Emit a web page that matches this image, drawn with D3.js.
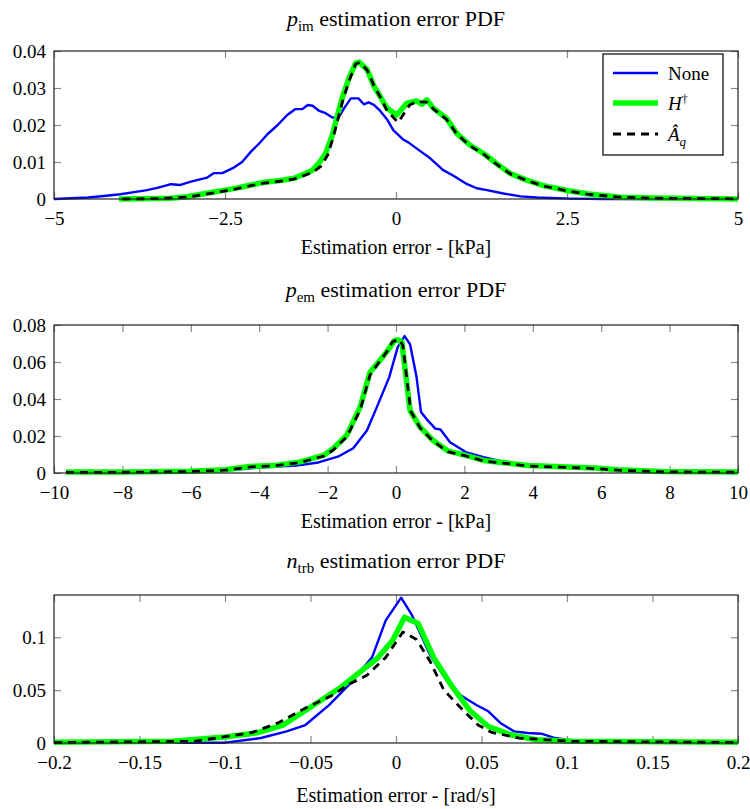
<!DOCTYPE html>
<html>
<head>
<meta charset="utf-8">
<script src="https://cdn.jsdelivr.net/npm/d3@7"></script>
<style>
  body { margin: 0; background: #fff; }
  svg text { font-family: "Liberation Serif", "DejaVu Serif", serif; fill: #000; }
</style>
</head>
<body>
<div id="wrapper"></div>
<script>
// data, [x, pdf]

// p_im panel
const pimXTicks = [-5, -2.5, 0, 2.5, 5]
const pimYTicks = [0, 0.01, 0.02, 0.03, 0.04]
const pimNone = [[-5,0],[-4.5,0.0004],[-4.27,0.0008],[-4.03,0.0013],[-3.78,0.002],[-3.64,0.0024],[-3.49,0.003],[-3.29,0.004],[-3.15,0.0038],[-3.0,0.0047],[-2.76,0.0058],[-2.66,0.007],[-2.54,0.007],[-2.37,0.0085],[-2.25,0.010],[-2.12,0.0128],[-2.0,0.015],[-1.88,0.0175],[-1.73,0.020],[-1.59,0.0227],[-1.47,0.0243],[-1.37,0.0243],[-1.29,0.0254],[-1.22,0.0252],[-1.13,0.0239],[-1.03,0.0232],[-0.93,0.022],[-0.84,0.022],[-0.76,0.0245],[-0.66,0.0272],[-0.55,0.0272],[-0.47,0.0256],[-0.4,0.0261],[-0.32,0.0254],[-0.23,0.0238],[-0.13,0.0215],[-0.04,0.0186],[0.11,0.016],[0.18,0.0153],[0.35,0.013],[0.5,0.011],[0.69,0.0078],[0.84,0.0063],[1.04,0.004],[1.18,0.0029],[1.33,0.0024],[1.57,0.0015],[1.82,0.0007],[2.06,0.0004],[2.55,0.0001],[3.04,0],[5,0]]
const pimH = [[-4.05,0],[-3.78,0.0001],[-3.29,0.0002],[-3.05,0.0006],[-2.81,0.0014],[-2.56,0.0022],[-2.32,0.003],[-2.12,0.0038],[-1.93,0.0045],[-1.69,0.005],[-1.49,0.0056],[-1.35,0.0067],[-1.22,0.0078],[-1.13,0.0096],[-1.03,0.0123],[-0.93,0.0173],[-0.86,0.0223],[-0.78,0.0277],[-0.69,0.0326],[-0.59,0.0367],[-0.54,0.037],[-0.42,0.0349],[-0.32,0.0304],[-0.23,0.0277],[-0.13,0.0245],[0.01,0.0227],[0.16,0.0259],[0.3,0.0265],[0.38,0.0256],[0.45,0.0268],[0.55,0.0245],[0.74,0.0218],[0.89,0.0177],[1.08,0.0146],[1.28,0.0123],[1.47,0.0096],[1.67,0.0069],[1.91,0.0051],[2.16,0.0036],[2.5,0.0023],[2.79,0.0014],[3.28,0.0005],[3.77,0.0003],[4.75,0.0001],[5,0]]
const pimAq = [[-4.0,0],[-3.5,0.0001],[-3.05,0.0005],[-2.81,0.0012],[-2.56,0.002],[-2.32,0.0028],[-2.12,0.0036],[-1.93,0.0043],[-1.69,0.0048],[-1.49,0.0054],[-1.35,0.0063],[-1.22,0.0072],[-1.1,0.0088],[-1.0,0.0118],[-0.92,0.0165],[-0.85,0.0215],[-0.77,0.0272],[-0.68,0.0322],[-0.59,0.0365],[-0.53,0.0369],[-0.42,0.0348],[-0.32,0.0305],[-0.22,0.0272],[-0.13,0.0238],[0.03,0.0207],[0.2,0.0254],[0.3,0.0263],[0.45,0.0262],[0.55,0.0243],[0.74,0.0215],[0.89,0.0175],[1.08,0.0144],[1.28,0.0121],[1.47,0.0094],[1.67,0.0068],[1.91,0.005],[2.16,0.0035],[2.5,0.0022],[2.79,0.0013],[3.28,0.0005],[3.77,0.0002],[4.75,0.0001],[5,0]]

// p_em panel
const pemXTicks = [-10, -8, -6, -4, -2, 0, 2, 4, 6, 8, 10]
const pemYTicks = [0, 0.02, 0.04, 0.06, 0.08]
const pemNone = [[-9.65,0.0005],[-8,0.0005],[-6,0.0008],[-5,0.0012],[-4,0.003],[-2.92,0.004],[-2.27,0.0057],[-1.7,0.0088],[-1.25,0.0134],[-0.85,0.023],[-0.56,0.0356],[-0.2,0.0517],[0.05,0.068],[0.25,0.074],[0.41,0.0696],[0.6,0.052],[0.73,0.033],[0.9,0.029],[1.15,0.024],[1.3,0.0235],[1.58,0.0166],[2.04,0.0113],[2.56,0.0086],[3.2,0.0058],[3.9,0.0042],[5,0.0032],[6,0.0025],[7,0.0012],[8,0.0007],[10,0.0004]]
const pemH = [[-9.65,0.0005],[-7.9,0.0005],[-6.05,0.001],[-5,0.0018],[-4.23,0.0036],[-3.58,0.004],[-2.8,0.006],[-2.1,0.0097],[-1.85,0.013],[-1.44,0.0204],[-1.05,0.0356],[-0.76,0.0544],[-0.51,0.060],[-0.25,0.066],[-0.05,0.0715],[0.05,0.072],[0.17,0.071],[0.41,0.0338],[0.7,0.0249],[1.08,0.0177],[1.51,0.012],[2.04,0.0095],[2.56,0.0068],[3.86,0.0041],[5.82,0.0027],[6.5,0.0018],[7.8,0.0008],[10,0.0005]]
const pemAq = [[-9.65,0.0003],[-7.9,0.0004],[-6.05,0.0008],[-5,0.0015],[-4.23,0.0033],[-3.58,0.0038],[-2.8,0.0057],[-2.1,0.0092],[-1.85,0.0122],[-1.44,0.0195],[-1.05,0.034],[-0.76,0.053],[-0.51,0.0595],[-0.25,0.066],[-0.1,0.071],[0.1,0.0722],[0.2,0.069],[0.43,0.0335],[0.7,0.0245],[1.08,0.0173],[1.51,0.0115],[2.04,0.0092],[2.56,0.0065],[3.86,0.0038],[5.82,0.0024],[6.5,0.0015],[7.8,0.0006],[10,0.0004]]

// n_trb panel
const ntrbXTicks = [-0.2, -0.15, -0.1, -0.05, 0, 0.05, 0.1, 0.15, 0.2]
const ntrbYTicks = [0, 0.05, 0.1]
const ntrbNone = [[-0.2,0.0003],[-0.1,0.0003],[-0.079,0.0047],[-0.064,0.011],[-0.053,0.017],[-0.039,0.036],[-0.027,0.056],[-0.014,0.081],[-0.006,0.116],[0.003,0.1375],[0.009,0.122],[0.02,0.083],[0.03,0.058],[0.038,0.045],[0.047,0.036],[0.054,0.03],[0.061,0.019],[0.069,0.011],[0.077,0.0094],[0.085,0.0088],[0.093,0.0047],[0.103,0.0025],[0.129,0.001],[0.2,0.0005]]
const ntrbH = [[-0.2,0.0006],[-0.131,0.0016],[-0.1,0.0056],[-0.082,0.0094],[-0.066,0.017],[-0.048,0.036],[-0.032,0.053],[-0.011,0.080],[-0.002,0.097],[0.005,0.119],[0.013,0.113],[0.022,0.081],[0.033,0.053],[0.043,0.031],[0.054,0.0156],[0.067,0.0078],[0.082,0.0031],[0.103,0.0016],[0.2,0.0008]]
const ntrbAq = [[-0.2,0.0004],[-0.118,0.0016],[-0.1,0.006],[-0.084,0.01],[-0.069,0.019],[-0.053,0.033],[-0.0375,0.045],[-0.027,0.056],[-0.017,0.064],[-0.006,0.081],[0.004,0.105],[0.012,0.098],[0.02,0.077],[0.028,0.05],[0.038,0.033],[0.048,0.017],[0.056,0.01],[0.072,0.0047],[0.103,0.0016],[0.2,0.0005]]

// layout
const width = 750
const height = 809
const frame = { left: 54, right: 738, height: 148 }

const panels = [
  { sym: "p", sub: "im", unit: "[kPa]", top: 51, titleY: 18, labelY: 247,
    xDomain: [-5, 5], yDomain: [0, 0.04], xTicks: pimXTicks, yTicks: pimYTicks,
    series: [pimNone, pimH, pimAq], legend: true },
  { sym: "p", sub: "em", unit: "[kPa]", top: 325, titleY: 289, labelY: 521,
    xDomain: [-10, 10], yDomain: [0, 0.08], xTicks: pemXTicks, yTicks: pemYTicks,
    series: [pemNone, pemH, pemAq] },
  { sym: "n", sub: "trb", unit: "[rad/s]", top: 595, titleY: 560, labelY: 795,
    xDomain: [-0.2, 0.2], yDomain: [0, 0.14], xTicks: ntrbXTicks, yTicks: ntrbYTicks,
    series: [ntrbNone, ntrbH, ntrbAq] },
]

const styles = [
  { color: "#0000ff", width: 2.4, dash: null },
  { color: "#00ff00", width: 5.5, dash: null },
  { color: "#000000", width: 2.8, dash: "8,6" },
]

const fmt = d => (d < 0 ? "\u2212" : "") + Math.abs(d)

const svg = d3.select("#wrapper")
  .append("svg")
    .attr("width", width)
    .attr("height", height)

svg.append("rect").attr("width", width).attr("height", height).attr("fill", "#fff")

function drawPanel(p) {
  const bottom = p.top + frame.height
  const x = d3.scaleLinear().domain(p.xDomain).range([frame.left, frame.right])
  const y = d3.scaleLinear().domain(p.yDomain).range([bottom, p.top])
  const g = svg.append("g")

  // title
  const title = g.append("text")
    .attr("x", (frame.left + frame.right) / 2)
    .attr("y", p.titleY)
    .attr("dy", "0.35em")
    .attr("text-anchor", "middle")
    .style("font-size", "22px")
  title.append("tspan").style("font-style", "italic").text(p.sym)
  title.append("tspan").attr("dy", 5).style("font-size", "15px").text(p.sub)
  title.append("tspan").attr("dy", -5).text(" estimation error PDF")

  // bottom + top ticks
  g.append("g")
    .attr("transform", "translate(0," + bottom + ")")
    .call(d3.axisBottom(x).tickValues(p.xTicks).tickFormat(fmt).tickSize(-7).tickPadding(13))
  g.append("g")
    .attr("transform", "translate(0," + p.top + ")")
    .call(d3.axisTop(x).tickValues(p.xTicks).tickFormat("").tickSize(-7))

  // left + right ticks
  g.append("g")
    .attr("transform", "translate(" + frame.left + ",0)")
    .call(d3.axisLeft(y).tickValues(p.yTicks).tickFormat(fmt).tickSize(-7).tickPadding(8))
  g.append("g")
    .attr("transform", "translate(" + frame.right + ",0)")
    .call(d3.axisRight(y).tickValues(p.yTicks).tickFormat("").tickSize(-7))

  g.selectAll(".domain").remove()
  g.selectAll(".tick line").attr("stroke", "#8a8a8a").attr("stroke-width", 1.2)
  g.selectAll(".tick text").style("font-size", "19px").attr("fill", "#000")

  // curves
  const line = d3.line().x(d => x(d[0])).y(d => y(d[1]))
  p.series.forEach((s, i) => {
    g.append("path")
      .datum(s)
      .attr("d", line)
      .attr("fill", "none")
      .attr("stroke", styles[i].color)
      .attr("stroke-width", styles[i].width)
      .attr("stroke-linejoin", "round")
      .attr("stroke-dasharray", styles[i].dash)
  })

  // frame
  g.append("rect")
    .attr("x", frame.left).attr("y", p.top)
    .attr("width", frame.right - frame.left).attr("height", frame.height)
    .attr("fill", "none").attr("stroke", "#222").attr("stroke-width", 1.2)

  // x axis label
  g.append("text")
    .attr("x", (frame.left + frame.right) / 2)
    .attr("y", p.labelY)
    .attr("dy", "0.35em")
    .attr("text-anchor", "middle")
    .style("font-size", "20px")
    .text("Estimation error - " + p.unit)

  if (p.legend) drawLegend(g)
}

function drawLegend(g) {
  const box = { x: 603, y: 54, w: 120, h: 101 }
  g.append("rect")
    .attr("x", box.x).attr("y", box.y).attr("width", box.w).attr("height", box.h)
    .attr("fill", "#fff").attr("stroke", "#000").attr("stroke-width", 1.2)

  const rows = [73, 103, 134]
  rows.forEach((ry, i) => {
    g.append("line")
      .attr("x1", 613).attr("x2", 658).attr("y1", ry).attr("y2", ry)
      .attr("stroke", styles[i].color)
      .attr("stroke-width", styles[i].width)
      .attr("stroke-dasharray", styles[i].dash)
  })

  g.append("text").attr("x", 668).attr("y", rows[0]).attr("dy", "0.35em")
    .style("font-size", "19px").text("None")

  const t1 = g.append("text").attr("x", 668).attr("y", rows[1]).attr("dy", "0.35em")
    .style("font-size", "19px")
  t1.append("tspan").style("font-style", "italic").text("H")
  t1.append("tspan").attr("dy", -7).style("font-size", "12px").text("\u2020")

  const t2 = g.append("text").attr("x", 668).attr("y", rows[2]).attr("dy", "0.35em")
    .style("font-size", "19px")
  t2.append("tspan").style("font-style", "italic").text("\u00c2")
  t2.append("tspan").attr("dy", 5).style("font-size", "13px").style("font-style", "italic").text("q")
}

panels.forEach(drawPanel)
</script>
</body>
</html>
